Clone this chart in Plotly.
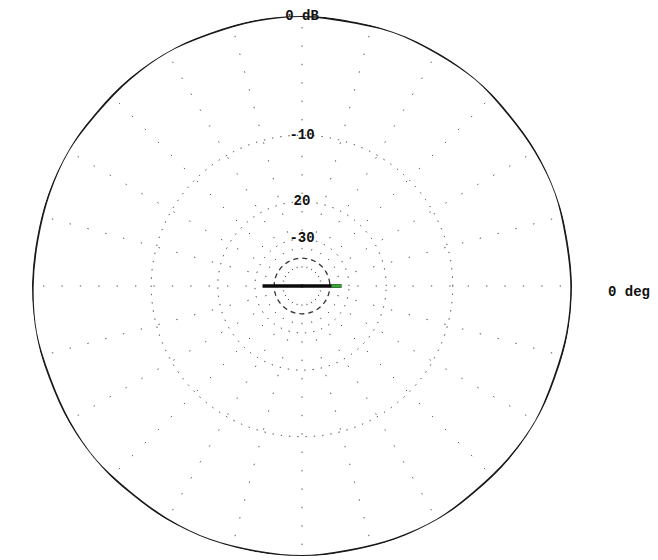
import plotly.graph_objects as go

# Azimuth pattern (dB relative to maximum), sampled every 10 degrees
azimuth_deg = [0, 10, 20, 30, 40, 50, 60, 70, 80, 90, 100, 110,
               120, 130, 140, 150, 160, 170, 180, 190, 200, 210, 220, 230,
               240, 250, 260, 270, 280, 290, 300, 310, 320, 330, 340, 350, 360]
pattern_db = [-0.05, -0.1, 0.0, -0.05, -0.1, 0.0, -0.05, 0.0, -0.1, 0.0, -0.05, -0.1,
              0.0, -0.05, -0.1, 0.0, -0.05, -0.1, -0.05, 0.0, -0.1, -0.05, 0.0, -0.1,
              -0.05, 0.0, -0.05, 0.0, -0.1, -0.05, 0.0, -0.1, -0.05, 0.0, -0.1, -0.05, -0.05]

# Cross-polar component along the 0/180 degree axis
cross_deg = [180, 0]
cross_db = [-33, -33]
cross_tip_db = [-38, -33]

# Inner reference ring (dB)
inner_ring_db = -39

# Grid rings and their labels
ring_db = [0, -10, -20, -30]
ring_labels = ["0 dB", "-10", "20", "-30"]
spoke_step = 15
angle_label = "0 deg"


def arrl(db):
    """ARRL log-periodic radial scale: 0.89 per 2 dB."""
    return 0.89 ** (-db / 2.0)


mono = dict(family="Liberation Mono, DejaVu Sans Mono, monospace", size=14, color="#111")

fig = go.Figure()

# grid-ring labels on the vertical axis
fig.add_trace(go.Scatterpolar(
    r=[arrl(d) for d in ring_db], theta=[90] * len(ring_db),
    mode="text", text=[f"<b>{t}</b>" for t in ring_labels],
    textfont=mono, textposition="middle center", cliponaxis=False,
))

# inner dashed ring
ring_theta = list(range(0, 361, 5))
fig.add_trace(go.Scatterpolar(
    r=[arrl(inner_ring_db)] * len(ring_theta), theta=ring_theta, mode="lines",
    line=dict(color="#333", width=1.3, dash="5px,4px", shape="spline"),
))

# main azimuth pattern
fig.add_trace(go.Scatterpolar(
    r=[arrl(d) for d in pattern_db], theta=azimuth_deg, mode="lines",
    line=dict(color="#1a1a1a", width=1.8, shape="spline"), cliponaxis=False,
))

# cross-polar trace
fig.add_trace(go.Scatterpolar(
    r=[arrl(d) for d in cross_db], theta=cross_deg, mode="lines",
    line=dict(color="#0a0a0a", width=3.5),
))
fig.add_trace(go.Scatterpolar(
    r=[arrl(d) for d in cross_tip_db], theta=[0, 0], mode="lines",
    line=dict(color="#33aa33", width=3),
))

fig.update_layout(
    width=658, height=560,
    margin=dict(l=0, r=0, t=0, b=0),
    paper_bgcolor="white",
    showlegend=False,
    hovermode=False,
    polar=dict(
        domain=dict(x=[32 / 658, 572 / 658], y=[4 / 560, 544 / 560]),
        bgcolor="white",
        radialaxis=dict(
            range=[0, 1], tickmode="array",
            tickvals=[arrl(d) for d in ring_db[1:]],
            showticklabels=False, ticks="", showline=False,
            gridcolor="#333", gridwidth=1.3, griddash="1.3px,7px",
        ),
        angularaxis=dict(
            tickmode="array", tickvals=list(range(0, 360, spoke_step)),
            showticklabels=False, ticks="", showline=False,
            gridcolor="#555", gridwidth=1.4, griddash="1.4px,17px",
            rotation=0, direction="counterclockwise",
        ),
    ),
    annotations=[dict(
        text=f"<b>{angle_label}</b>", x=629 / 658, y=1 - 292 / 560,
        xref="paper", yref="paper", showarrow=False, font=mono,
        xanchor="center", yanchor="middle",
    )],
)

fig.write_html("out.html")
